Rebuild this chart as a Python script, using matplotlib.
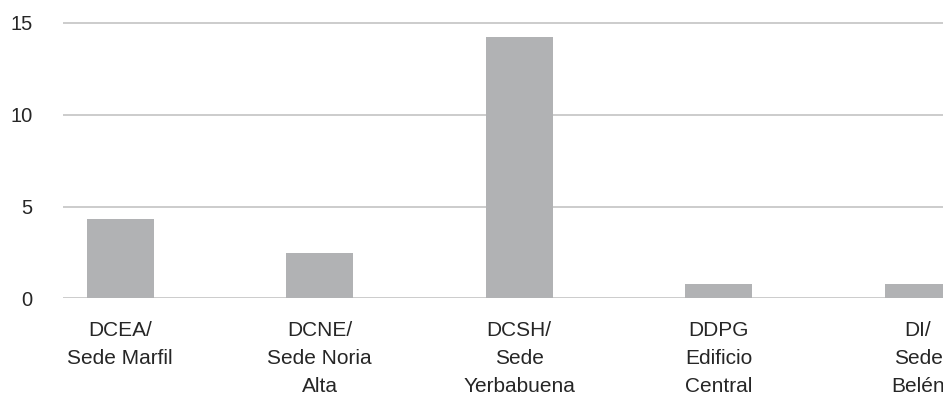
import numpy as np
import matplotlib.pyplot as plt

plt.rcParams['font.family'] = ['Liberation Sans', 'DejaVu Sans']

# categories and values
categories = ['DCEA/\nSede Marfil', 'DCNE/\nSede Noria\nAlta', 'DCSH/\nSede\nYerbabuena',
              'DDPG\nEdificio\nCentral', 'DI/\nSede\nBelén']
values = [4.3, 2.45, 14.25, 0.8, 0.8]
yticks = [0, 5, 10, 15]

fig = plt.figure(figsize=(9.43, 4.04), dpi=100)
ax = fig.add_axes([63 / 943, 1 - 298.3 / 404, 1 - 63 / 943, (298.3 - 23) / 404 * 15.2 / 15])

x = np.arange(len(categories))
ax.bar(x, values, width=0.336, color='#b1b2b4', zorder=2)

ax.set_xlim(-0.286, 4.125)
ax.set_ylim(0, 15.2)
ax.set_yticks(yticks)
ax.set_yticklabels([str(t) for t in yticks])
ax.yaxis.grid(True, color='#c8c8c8', linewidth=1.3, zorder=0)
ax.set_xticks(x)
ax.set_xticklabels(categories, linespacing=1.6, ha='center')

for s in ax.spines.values():
    s.set_visible(False)
ax.tick_params(axis='y', length=0, pad=22, labelsize=14.5, labelcolor='#262626')
ax.tick_params(axis='x', length=0, pad=16, labelsize=15, labelcolor='#262626')

fig.savefig('out.png', dpi=100)
